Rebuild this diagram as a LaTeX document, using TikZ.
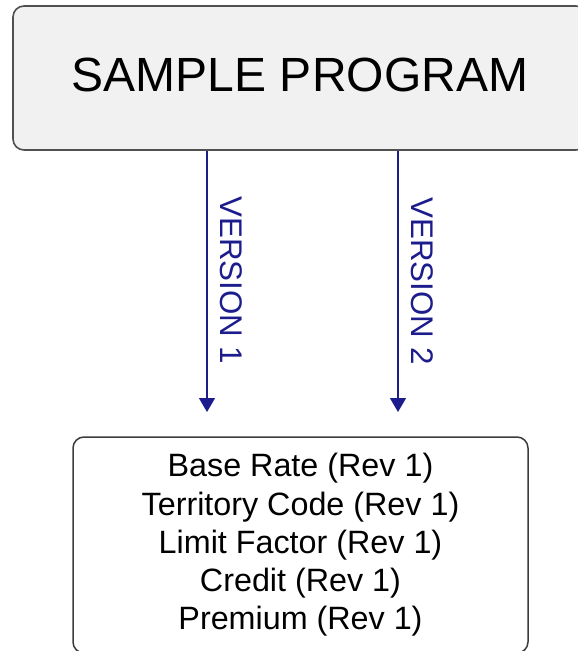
\documentclass[tikz,border=0pt]{standalone}
\usepackage{fontspec}
\setmainfont{Liberation Sans}
\usetikzlibrary{arrows.meta}
\definecolor{navy}{RGB}{28,28,140}
\definecolor{boxline}{RGB}{80,80,80}
\definecolor{listline}{RGB}{60,60,60}
\definecolor{boxfill}{RGB}{241,241,241}
\tikzset{
  progbox/.style={draw=boxline, line width=1.6pt, fill=boxfill, rounded corners=11pt,
    minimum width=574pt, minimum height=144pt, inner sep=0pt},
  listbox/.style={draw=listline, line width=1.5pt, fill=white, rounded corners=11pt,
    minimum width=455pt, minimum height=216pt, inner sep=0pt, align=center,
    font=\fontsize{32.3}{38.25}\selectfont},
  verarrow/.style={draw=navy, line width=1.4pt, -{Triangle[width=16pt,length=14pt]}},
  verlabel/.style={text=navy, rotate=-90, inner sep=0pt, font=\fontsize{31.3}{36}\selectfont},
}
\begin{document}
\begin{tikzpicture}[x=1pt,y=1pt]
\useasboundingbox (0,0) rectangle (578,-651);
\clip (0,0) rectangle (578,-651);
\node[progbox] (prog) at (300,-78) {};
\node[font=\fontsize{48}{56}\selectfont, inner sep=0pt] (title) at (300,-74.5) {SAMPLE PROGRAM};
\node[listbox] (list) at (300.5,-545) {Base Rate (Rev 1)\\Territory Code (Rev 1)\\Limit Factor (Rev 1)\\Credit (Rev 1)\\Premium (Rev 1)};
\coordinate (e1) at (207,-412);
\coordinate (e2) at (398,-412);
\draw[verarrow] (prog.south -| e1) -- (e1);
\draw[verarrow] (prog.south -| e2) -- (e2);
\node[verlabel] (v1) at (231,-280) {VERSION 1};
\node[verlabel] (v2) at (422,-281) {VERSION 2};
\end{tikzpicture}
\end{document}
